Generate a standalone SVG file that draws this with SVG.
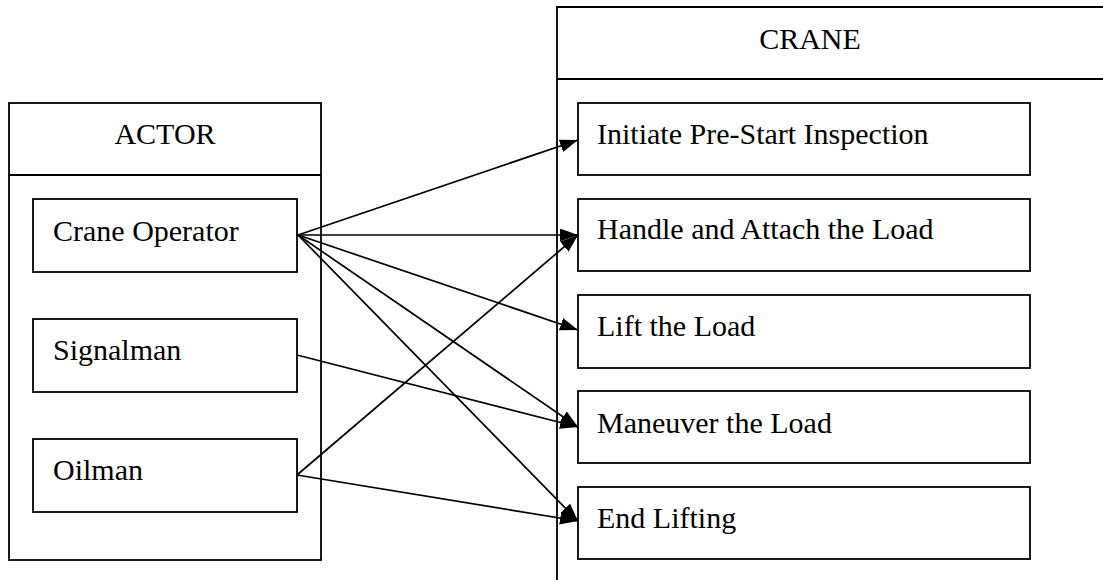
<svg xmlns="http://www.w3.org/2000/svg" width="1103" height="580" viewBox="0 0 1103 580">
<style>
.box{fill:#fff;stroke:#000;stroke-width:1.8}
.t{font-family:"Liberation Serif","Times New Roman",serif;font-size:30px;fill:#000}
.c{stroke:#000;stroke-width:1.7;fill:none;marker-end:url(#ah)}
</style>
<defs>
<marker id="ah" viewBox="0 0 18 13" refX="18" refY="6.5" markerWidth="18" markerHeight="13" markerUnits="userSpaceOnUse" orient="auto">
<path d="M0,0 L18,6.5 L0,13 Z" fill="#000"/>
</marker>
</defs>
<rect width="1103" height="580" fill="#fff"/>
<g id="actor">
<rect class="box" x="9" y="103" width="312" height="457"/>
<line x1="9" y1="175" x2="321" y2="175" stroke="#000" stroke-width="1.8"/>
<text class="t" x="165" y="144" text-anchor="middle">ACTOR</text>
</g>
<g id="crane">
<path d="M557,590 L557,7 L1110,7" class="box" fill="none"/>
<line x1="557" y1="79" x2="1110" y2="79" stroke="#000" stroke-width="1.8"/>
<text class="t" x="810" y="49" text-anchor="middle">CRANE</text>
</g>
<g id="crane-operator">
<rect class="box" x="33" y="199" width="264" height="73"/>
<text class="t" x="53" y="241">Crane Operator</text>
</g>
<g id="signalman">
<rect class="box" x="33" y="319" width="264" height="73"/>
<text class="t" x="53" y="360">Signalman</text>
</g>
<g id="oilman">
<rect class="box" x="33" y="439" width="264" height="73"/>
<text class="t" x="53" y="480">Oilman</text>
</g>
<g id="uc-initiate">
<rect class="box" x="578" y="103" width="452" height="72"/>
<text class="t" x="597" y="144">Initiate Pre-Start Inspection</text>
</g>
<g id="uc-handle">
<rect class="box" x="578" y="199" width="452" height="72"/>
<text class="t" x="597" y="239">Handle and Attach the Load</text>
</g>
<g id="uc-lift">
<rect class="box" x="578" y="295" width="452" height="73"/>
<text class="t" x="597" y="336">Lift the Load</text>
</g>
<g id="uc-maneuver">
<rect class="box" x="578" y="391" width="452" height="72"/>
<text class="t" x="597" y="433">Maneuver the Load</text>
</g>
<g id="uc-end">
<rect class="box" x="578" y="487" width="452" height="72"/>
<text class="t" x="597" y="528">End Lifting</text>
</g>
<g id="connectors">
<line class="c" x1="298" y1="235" x2="578" y2="140"/>
<line class="c" x1="298" y1="235" x2="578" y2="235"/>
<line class="c" x1="298" y1="235" x2="578" y2="330"/>
<line class="c" x1="298" y1="235" x2="578" y2="427"/>
<line class="c" x1="298" y1="235" x2="578" y2="521"/>
<line class="c" x1="297" y1="355" x2="578" y2="427"/>
<line class="c" x1="297" y1="475" x2="578" y2="235"/>
<line class="c" x1="297" y1="475" x2="578" y2="521"/>
</g>
</svg>
